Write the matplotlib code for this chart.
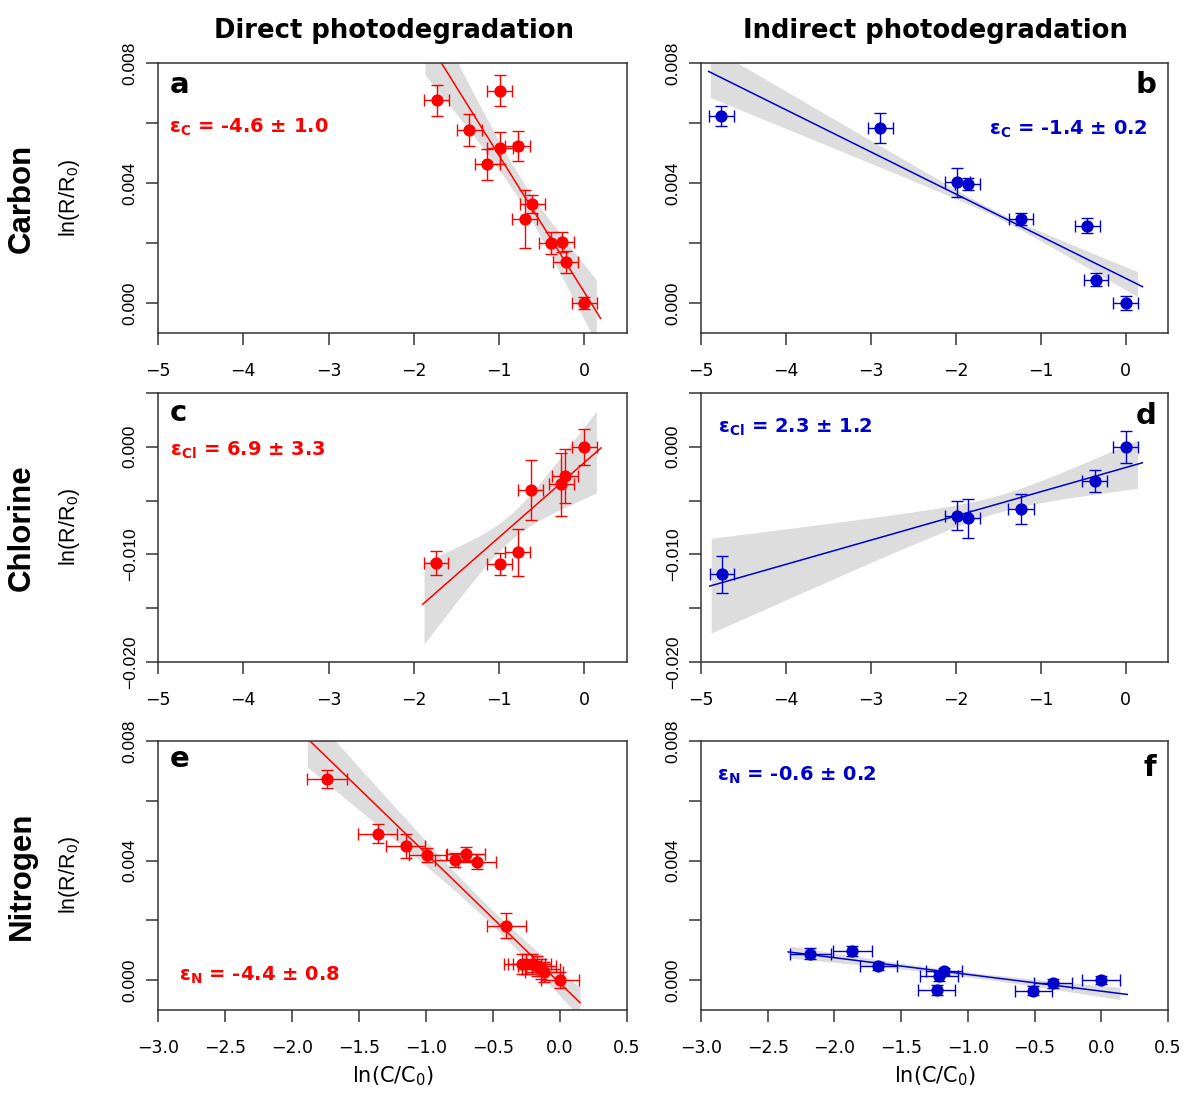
import matplotlib
matplotlib.use('Agg')
import matplotlib.pyplot as plt
import numpy as np

plt.rcParams['font.family'] = ['DejaVu Sans']
plt.rcParams['mathtext.default'] = 'regular'

# ---------------- data ----------------
# Panel a: Carbon, direct
a_x = [-1.73, -0.99, -1.35, -0.99, -0.78, -1.14, -0.61, -0.70, -0.39, -0.26, -0.22, 0.00]
a_y = [0.00676, 0.00708, 0.00577, 0.00517, 0.00522, 0.00463, 0.00331, 0.00280, 0.00200, 0.00203, 0.00137, 0.00000]
a_xerr = [0.148, 0.146, 0.146, 0.148, 0.146, 0.146, 0.143, 0.143, 0.146, 0.143, 0.143, 0.146]
a_yerr = [0.00052, 0.00052, 0.00052, 0.00053, 0.00050, 0.00052, 0.00030, 0.00097, 0.00036, 0.00034, 0.00036, 0.00020]
a_fit = [-1.87, 0.19, -0.00456, 0.000355]          # x0, x1, slope, intercept
a_band = [-1.87, 0.14, -0.76, 0.0004, 0.00109]     # x0, x1, centre, min half-width, growth

# Panel b: Carbon, indirect
b_x = [-4.76, -2.89, -1.98, -1.86, -1.23, -0.45, -0.35, 0.00]
b_y = [0.00623, 0.00583, 0.00402, 0.00397, 0.00280, 0.00258, 0.00078, 0.00000]
b_xerr = [0.143, 0.147, 0.147, 0.145, 0.145, 0.145, 0.145, 0.145]
b_yerr = [0.00033, 0.00050, 0.00049, 0.00020, 0.00020, 0.00024, 0.00022, 0.00022]
b_fit = [-4.91, 0.20, -0.001404, 0.000825]
b_band = [-4.89, 0.14, -1.5, 0.0001, 0.000246]

# Panel c: Chlorine, direct
c_x = [-1.74, -0.995, -0.78, -0.63, -0.27, -0.23, 0.00]
c_y = [-0.0108, -0.0109, -0.0098, -0.0040, -0.0035, -0.0027, 0.0000]
c_xerr = [0.143, 0.147, 0.147, 0.147, 0.147, 0.150, 0.149]
c_yerr = [0.00108, 0.00100, 0.00220, 0.00280, 0.00290, 0.00250, 0.00170]
c_fit = [-1.895, 0.196, 0.00695, -0.00146]
c_band = [-1.88, 0.14, -0.87, 0.0012, 0.00357]

# Panel d: Chlorine, indirect
d_x = [-4.75, -1.98, -1.86, -1.23, -0.36, 0.00]
d_y = [-0.01186, -0.00641, -0.00666, -0.00576, -0.00316, 0.00000]
d_xerr = [0.143, 0.143, 0.147, 0.153, 0.147, 0.147]
d_yerr = [0.00172, 0.00133, 0.00180, 0.00140, 0.00100, 0.00146]
d_fit = [-4.898, 0.196, 0.002249, -0.00193]
d_band = [-4.88, 0.14, -1.5, 0.0008, 0.00128]

# Panel e: Nitrogen, direct
e_x = [-1.74, -1.36, -1.15, -0.99, -0.78, -0.70, -0.62, -0.40, -0.28, -0.25, -0.21, -0.17, -0.14, -0.12, 0.00]
e_y = [0.00673, 0.00490, 0.00448, 0.00418, 0.00401, 0.00421, 0.00396, 0.00182, 0.00054, 0.00054,
       0.00054, 0.00048, 0.00036, 0.00028, 0.00000]
e_xerr = [0.147, 0.145, 0.145, 0.140, 0.150, 0.140, 0.140, 0.144, 0.140, 0.140, 0.140, 0.140, 0.140, 0.140, 0.145]
e_yerr = [0.00030, 0.00031, 0.00040, 0.00024, 0.00024, 0.00024, 0.00025, 0.00042, 0.00033, 0.00033,
          0.00033, 0.00033, 0.00033, 0.00033, 0.00028]
e_fit = [-1.886, 0.15, -0.004344, -0.000106]
e_band = [-1.886, 0.15, -0.5, 0.00025, 0.000669]

# Panel f: Nitrogen, indirect
f_x = [-2.18, -1.865, -1.67, -1.18, -1.215, -1.235, -0.51, -0.36, 0.00]
f_y = [0.00089, 0.00098, 0.00048, 0.00029, 0.00013, -0.00033, -0.00036, -0.00011, 0.00000]
f_xerr = [0.156, 0.145, 0.140, 0.137, 0.141, 0.141, 0.140, 0.141, 0.144]
f_yerr = [0.00019, 0.00016, 0.00014, 0.00013, 0.00015, 0.00018, 0.00015, 0.00016, 0.00014]
f_fit = [-2.347, 0.195, -0.00056, -0.00037]
f_band = [-2.33, 0.14, -1.1, 0.00008, 0.00015]

# axes / tick definitions
xticks_wide = [-5, -4, -3, -2, -1, 0]
xlabels_wide = ['\u22125', '\u22124', '\u22123', '\u22122', '\u22121', '0']
xticks_narrow = [-3.0, -2.5, -2.0, -1.5, -1.0, -0.5, 0.0, 0.5]
xlabels_narrow = ['\u22123.0', '\u22122.5', '\u22122.0', '\u22121.5', '\u22121.0', '\u22120.5', '0.0', '0.5']
yticks_cn = [0.000, 0.002, 0.004, 0.006, 0.008]
ylabels_cn = ['0.000', '', '0.004', '', '0.008']
yticks_cl = [-0.020, -0.015, -0.010, -0.005, 0.000, 0.005]
ylabels_cl = ['\u22120.020', '', '\u22120.010', '', '0.000', '']

col_titles = ['Direct photodegradation', 'Indirect photodegradation']
row_titles = ['Carbon', 'Chlorine', 'Nitrogen']
eps_texts = ['$\u03b5_{C}$ = -4.6 \u00b1 1.0', '$\u03b5_{C}$ = -1.4 \u00b1 0.2',
             '$\u03b5_{Cl}$ = 6.9 \u00b1 3.3', '$\u03b5_{Cl}$ = 2.3 \u00b1 1.2',
             '$\u03b5_{N}$ = -4.4 \u00b1 0.8', '$\u03b5_{N}$ = -0.6 \u00b1 0.2']

# ---------------- styling ----------------
RED = '#FF0000'
BLUE = '#0000CD'
BAND = '#DDDDDD'
AXC = '#333333'
VFONT = ['Liberation Sans', 'DejaVu Sans']

W, H = 1184, 1105
fig = plt.figure(figsize=(W / 100, H / 100), dpi=100)


def px_rect(l, t, r, b):
    return [l / W, 1 - b / H, (r - l) / W, (b - t) / H]


def panel(rect, x, y, xerr, yerr, color, fit, band, xlim, ylim, xt, xl, yt, yl,
          letter, lpos, lha, eps, epos, eha):
    ax = fig.add_axes(rect)
    # confidence band
    bx = np.linspace(band[0], band[1], 200)
    by = fit[2] * bx + fit[3]
    hw = np.sqrt(band[3] ** 2 + (band[4] * (bx - band[2])) ** 2)
    ax.fill_between(bx, by - hw, by + hw, color=BAND, lw=0, zorder=1)
    # fit line
    lx = np.array([fit[0], fit[1]])
    ax.plot(lx, fit[2] * lx + fit[3], color=color, lw=1.1, zorder=2)
    # points with error bars
    ax.errorbar(x, y, xerr=xerr, yerr=yerr, fmt='o', color=color, ms=7.8, mec=color,
                ecolor=color, elinewidth=1.0, capsize=4.5, capthick=1.0, zorder=3)
    ax.set_xlim(*xlim)
    ax.set_ylim(*ylim)
    ax.set_xticks(xt)
    ax.set_xticklabels(xl, fontsize=12.5)
    ax.set_yticks(yt)
    ax.set_yticklabels(yl, rotation=90, va='center', fontsize=12.5, family=VFONT)
    ax.tick_params(axis='both', direction='out', length=8.6, width=1.1, color=AXC)
    ax.tick_params(axis='x', pad=12.5)
    ax.tick_params(axis='y', pad=6.0)
    for s in ax.spines.values():
        s.set_color(AXC)
        s.set_linewidth(1.1)
    ax.text(lpos[0], lpos[1], letter, transform=ax.transAxes, ha=lha, va='baseline',
            fontsize=21, fontweight='bold', color='black')
    ax.text(epos[0], epos[1], eps, transform=ax.transAxes, ha=eha, va='baseline',
            fontsize=14, fontweight='bold', color=color)
    return ax


LEFT = (158, 627)
RIGHT = (701, 1168)
ROWS = [(63, 333), (393, 662), (741, 1010)]
lim_cn = (-0.001, 0.008)
lim_cl = (-0.020, 0.005)

panel(px_rect(LEFT[0], ROWS[0][0], LEFT[1], ROWS[0][1]), a_x, a_y, a_xerr, a_yerr, RED, a_fit, a_band,
      (-5, 0.5), lim_cn, xticks_wide, xlabels_wide, yticks_cn, ylabels_cn,
      'a', (0.024, 0.889), 'left', eps_texts[0], (0.023, 0.741), 'left')
panel(px_rect(RIGHT[0], ROWS[0][0], RIGHT[1], ROWS[0][1]), b_x, b_y, b_xerr, b_yerr, BLUE, b_fit, b_band,
      (-5, 0.5), lim_cn, xticks_wide, xlabels_wide, yticks_cn, ylabels_cn,
      'b', (0.975, 0.889), 'right', eps_texts[1], (0.955, 0.736), 'right')
panel(px_rect(LEFT[0], ROWS[1][0], LEFT[1], ROWS[1][1]), c_x, c_y, c_xerr, c_yerr, RED, c_fit, c_band,
      (-5, 0.5), lim_cl, xticks_wide, xlabels_wide, yticks_cl, ylabels_cl,
      'c', (0.024, 0.896), 'left', eps_texts[2], (0.026, 0.766), 'left')
panel(px_rect(RIGHT[0], ROWS[1][0], RIGHT[1], ROWS[1][1]), d_x, d_y, d_xerr, d_yerr, BLUE, d_fit, d_band,
      (-5, 0.5), lim_cl, xticks_wide, xlabels_wide, yticks_cl, ylabels_cl,
      'd', (0.975, 0.884), 'right', eps_texts[3], (0.036, 0.851), 'left')
panel(px_rect(LEFT[0], ROWS[2][0], LEFT[1], ROWS[2][1]), e_x, e_y, e_xerr, e_yerr, RED, e_fit, e_band,
      (-3, 0.5), lim_cn, xticks_narrow, xlabels_narrow, yticks_cn, ylabels_cn,
      'e', (0.026, 0.903), 'left', eps_texts[4], (0.045, 0.108), 'left')
panel(px_rect(RIGHT[0], ROWS[2][0], RIGHT[1], ROWS[2][1]), f_x, f_y, f_xerr, f_yerr, BLUE, f_fit, f_band,
      (-3, 0.5), lim_cn, xticks_narrow, xlabels_narrow, yticks_cn, ylabels_cn,
      'f', (0.975, 0.870), 'right', eps_texts[5], (0.034, 0.851), 'left')

# column titles
fig.text(394.5 / W, 1 - 38.5 / H, col_titles[0], ha='center', va='baseline', fontsize=18.6, fontweight='bold')
fig.text(935.5 / W, 1 - 38.5 / H, col_titles[1], ha='center', va='baseline', fontsize=18.6, fontweight='bold')

# row titles and y axis labels
for name, (t, b) in zip(row_titles, ROWS):
    yc = 1 - (t + b) / 2 / H
    fig.text(22 / W, yc, name, rotation=90, ha='center', va='center', fontsize=22.5,
             fontweight='bold', family=VFONT)
    fig.text(70 / W, yc, 'ln(R/R$_0$)', rotation=90, ha='center', va='center', fontsize=15.5,
             family=VFONT)

# x axis labels
for cx in [(LEFT[0] + LEFT[1]) / 2, (RIGHT[0] + RIGHT[1]) / 2]:
    fig.text(cx / W, 1 - 1082 / H, 'ln(C/C$_0$)', ha='center', va='baseline', fontsize=15)

fig.savefig('out.png', dpi=100)
